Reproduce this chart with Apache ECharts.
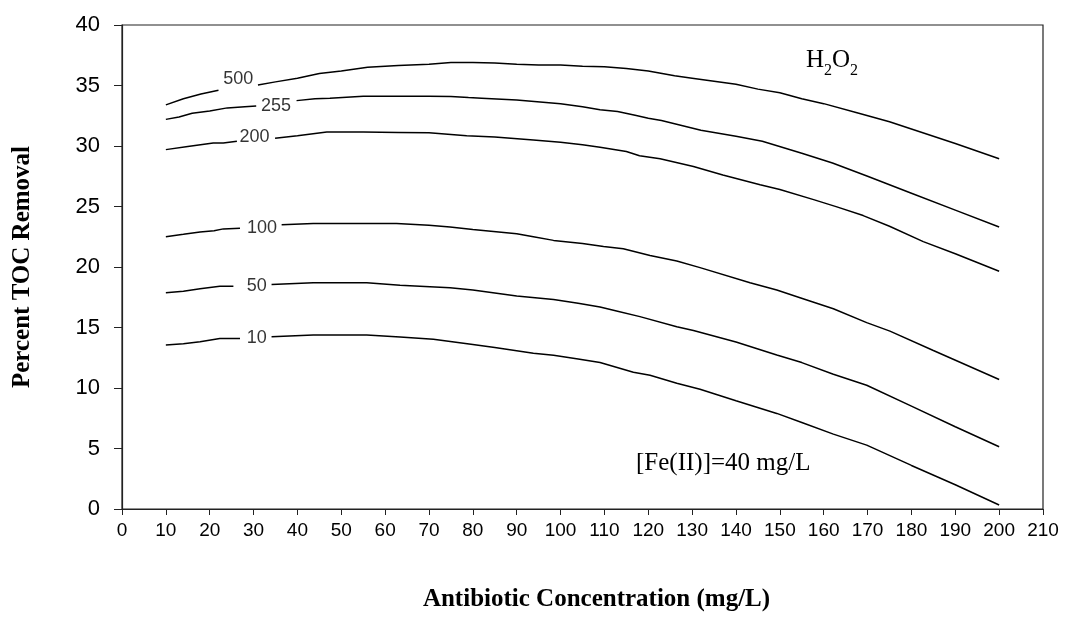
<!DOCTYPE html>
<html>
<head>
<meta charset="utf-8">
<script src="https://cdn.jsdelivr.net/npm/echarts@6/dist/echarts.min.js"></script>
<style>html,body{margin:0;padding:0;background:#fff}#c{width:1065px;height:617px}</style>
</head>
<body>
<div id="c"></div>
<script>
// Contour levels of H2O2 dose (mg/L)
const levels = ['500', '255', '200', '100', '50', '10'];

// x values (antibiotic concentration, mg/L) and y values (% TOC removal) per curve; null = gap for inline label
const x500 = [10, 14, 18, 22, 26, 31, 35, 40, 45, 50, 56, 63, 70, 75, 80, 85, 90, 95, 100, 105, 110, 115, 120, 126, 130, 140, 145, 150, 155, 160, 168, 175, 180, 190, 200];
const y500 = [33.4, 33.9, 34.3, 34.6, null, 35.05, 35.3, 35.6, 36.0, 36.2, 36.5, 36.65, 36.75, 36.9, 36.9, 36.85, 36.75, 36.7, 36.7, 36.6, 36.55, 36.4, 36.2, 35.8, 35.6, 35.1, 34.7, 34.4, 33.9, 33.5, 32.7, 32.0, 31.4, 30.2, 28.95];

const x255 = [10, 13, 16, 20, 24, 28, 30.6, 35, 39.8, 44, 47.4, 55, 63, 70, 75, 79, 82, 90, 100, 105, 109, 113, 117, 120, 123, 132, 140, 146, 155, 162, 170, 180, 190, 200];
const y255 = [32.2, 32.4, 32.7, 32.9, 33.15, 33.25, 33.3, null, 33.75, 33.9, 33.95, 34.12, 34.12, 34.12, 34.1, 34.0, 33.95, 33.8, 33.5, 33.25, 33.0, 32.85, 32.55, 32.3, 32.1, 31.3, 30.8, 30.4, 29.4, 28.6, 27.5, 26.1, 24.7, 23.3];

const x200 = [10, 15, 20.8, 23.1, 26.2, 30, 34.9, 40, 46.7, 55, 63, 70, 78.6, 85, 93.8, 100, 105, 109, 115, 118, 122.7, 130.3, 137, 145.5, 150, 157.7, 163, 169, 175, 182.7, 190, 200];
const y200 = [29.7, 29.95, 30.24, 30.24, 30.4, null, 30.65, 30.85, 31.15, 31.15, 31.12, 31.1, 30.85, 30.75, 30.5, 30.3, 30.1, 29.9, 29.55, 29.2, 28.95, 28.3, 27.6, 26.8, 26.4, 25.57, 24.97, 24.25, 23.37, 22.1, 21.1, 19.65];

const x100 = [10, 14, 17.8, 21, 23.1, 26.9, 31, 36.4, 43.6, 50, 62.6, 70, 74.8, 80, 90, 93.8, 98.4, 105, 109.8, 114.3, 120.4, 126.5, 131.8, 143.2, 149.3, 154.6, 162.2, 169.8, 175.1, 185, 200];
const y100 = [22.5, 22.7, 22.9, 23.0, 23.15, 23.2, null, 23.5, 23.6, 23.6, 23.6, 23.45, 23.3, 23.1, 22.75, 22.5, 22.2, 21.95, 21.7, 21.5, 20.95, 20.5, 19.95, 18.7, 18.1, 17.46, 16.55, 15.4, 14.7, 13.1, 10.7];

const x50 = [10, 14, 17.8, 22.3, 25.4, 30, 34.1, 43.6, 55.8, 63.4, 70.2, 74.8, 80, 90, 98.4, 104, 109, 113, 118.1, 126.5, 130.3, 140, 149.3, 155, 162.2, 169.8, 180, 190, 200];
const y50 = [17.87, 18.0, 18.2, 18.4, 18.4, null, 18.56, 18.7, 18.7, 18.5, 18.37, 18.28, 18.1, 17.6, 17.32, 17.0, 16.69, 16.35, 15.9, 15.07, 14.76, 13.8, 12.73, 12.1, 11.13, 10.23, 8.5, 6.8, 5.14];

const x10 = [10, 14, 17.8, 22.3, 26.9, 30, 34.1, 43.6, 55.8, 63.4, 71, 80, 85, 93.8, 98.4, 104, 109, 116.6, 120.4, 126.5, 131.8, 140, 149.3, 155, 162.2, 169.8, 180, 190, 200];
const y10 = [13.55, 13.65, 13.83, 14.1, 14.1, null, 14.24, 14.38, 14.38, 14.21, 14.02, 13.6, 13.35, 12.87, 12.7, 12.4, 12.1, 11.3, 11.05, 10.4, 9.9, 8.95, 7.9, 7.15, 6.19, 5.28, 3.6, 2.0, 0.33];

// inline contour label anchor positions (data coordinates)
const labelX = [26.5, 35.1, 30.2, 31.9, 30.7, 30.7];
const labelY = [35.5, 33.3, 30.76, 23.2, 18.4, 14.1];

// axis ticks
const xTicks = [0, 210, 10];
const yTicks = [0, 40, 5];

const curvesX = [x500, x255, x200, x100, x50, x10];
const curvesY = [y500, y255, y200, y100, y50, y10];

const chart = echarts.init(document.getElementById('c'), null, {renderer: 'canvas'});

const lineSeries = levels.map((lv, i) => ({
  name: lv,
  type: 'line',
  data: curvesX[i].map((x, j) => [x, curvesY[i][j] === null ? '-' : curvesY[i][j]]),
  showSymbol: false,
  symbol: 'none',
  connectNulls: false,
  lineStyle: {color: '#000', width: 1.5},
  silent: true,
  z: 2
}));

const labelSeries = {
  type: 'scatter',
  symbolSize: 1,
  itemStyle: {color: 'rgba(0,0,0,0)'},
  data: levels.map((lv, i) => ({name: lv, value: [labelX[i], labelY[i]]})),
  label: {
    show: true,
    position: 'inside',
    formatter: p => p.name,
    color: '#000',
    fontFamily: 'Liberation Sans, Arial, sans-serif',
    fontSize: 18
  },
  silent: true,
  z: 3
};

chart.setOption({
  animation: false,
  backgroundColor: '#fff',
  grid: {left: 122, top: 25, right: 22, bottom: 107, show: true, borderColor: '#222', borderWidth: 1.2, backgroundColor: 'transparent'},
  xAxis: {
    type: 'value',
    min: xTicks[0], max: xTicks[1], interval: xTicks[2],
    name: 'Antibiotic Concentration (mg/L)',
    nameLocation: 'middle',
    nameGap: 78,
    nameTextStyle: {fontFamily: 'Liberation Serif, Times New Roman, serif', fontWeight: 'bold', fontSize: 25, color: '#000', padding: [0, 0, 0, 28]},
    axisLine: {show: true, onZero: false, lineStyle: {color: '#222', width: 1.2}},
    axisTick: {show: true, inside: false, length: 6, lineStyle: {color: '#222'}},
    axisLabel: {color: '#000', fontFamily: 'Liberation Sans, Arial, sans-serif', fontSize: 19, margin: 12},
    splitLine: {show: false}
  },
  yAxis: {
    type: 'value',
    min: yTicks[0], max: yTicks[1], interval: yTicks[2],
    name: 'Percent TOC Removal',
    nameLocation: 'middle',
    nameGap: 87,
    nameTextStyle: {fontFamily: 'Liberation Serif, Times New Roman, serif', fontWeight: 'bold', fontSize: 25, color: '#000'},
    axisLine: {show: true, onZero: false, lineStyle: {color: '#222', width: 1.2}},
    axisTick: {show: true, inside: false, length: 8, lineStyle: {color: '#222'}},
    axisLabel: {color: '#000', fontFamily: 'Liberation Sans, Arial, sans-serif', fontSize: 22, margin: 22},
    splitLine: {show: false}
  },
  graphic: [
    {
      type: 'text', left: 806, top: 48, z: 10,
      style: {
        text: '{m|H}{s|2}{m|O}{s|2}',
        rich: {
          m: {fontFamily: 'Liberation Serif, Times New Roman, serif', fontSize: 25, fill: '#000', verticalAlign: 'bottom', lineHeight: 28},
          s: {fontFamily: 'Liberation Serif, Times New Roman, serif', fontSize: 16, fill: '#000', verticalAlign: 'bottom', lineHeight: 22, padding: [0, 0, -6, 0]}
        }
      }
    },
    {
      type: 'text', left: 636, top: 451, z: 10,
      style: {text: '[Fe(II)]=40 mg/L', font: '25px "Liberation Serif", "Times New Roman", serif', fill: '#000'}
    }
  ],
  series: lineSeries.concat([labelSeries])
});
</script>
</body>
</html>
